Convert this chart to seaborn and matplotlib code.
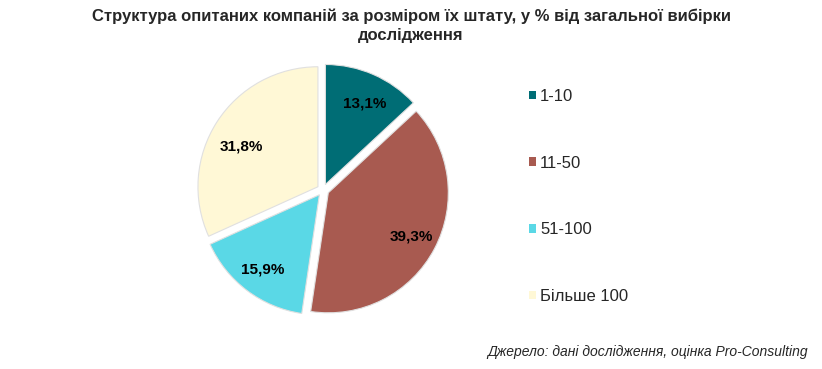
import numpy as np
import matplotlib
matplotlib.use("Agg")
import matplotlib.pyplot as plt
import seaborn as sns
from matplotlib.patches import Patch

# дані з діаграми
categories = ["1-10", "11-50", "51-100", "Більше 100"]
shares = [13.1, 39.3, 15.9, 31.8]
colors = ["#006d75", "#a85a50", "#5ad8e6", "#fff8d6"]

title = "Структура опитаних компаній за розміром їх штату, у % від загальної вибірки\nдослідження"
source = "Джерело: дані дослідження, оцінка Pro-Consulting"

# розміщення підписів часток (відстань від центру, зсув кута)
label_r = [0.75, 0.78, 0.78, 0.72]
label_shift = [-2, 0, 0, 5]

sns.set_theme(style="white")
plt.rcParams["font.family"] = ["Liberation Sans", "DejaVu Sans"]

fig = plt.figure(figsize=(8.22, 3.69), dpi=100)
fig.patch.set_facecolor("white")

# квадратні осі під круг (центр ~ (323,190) px, радіус ~120 px)
ax = fig.add_axes([179 / 822, 35 / 369, 288 / 822, 288 / 369])
wedges, _ = ax.pie(
    shares,
    colors=colors,
    startangle=90,
    counterclock=False,
    explode=[0.05] * len(shares),
    wedgeprops=dict(edgecolor="#e0e0e0", linewidth=0.8),
)
ax.set_xlim(-1.2, 1.2)
ax.set_ylim(-1.2, 1.2)
ax.set_aspect("equal")
ax.axis("off")

for w, v, r, sh in zip(wedges, shares, label_r, label_shift):
    ang = np.deg2rad((w.theta1 + w.theta2) / 2 + sh)
    cx, cy = w.center
    ax.text(cx + r * np.cos(ang), cy + r * np.sin(ang), f"{v:.1f}%".replace(".", ","),
            ha="center", va="center", fontsize=11, fontweight="bold", color="black")

handles = [Patch(facecolor=c, edgecolor="none") for c in colors]
fig.legend(handles, categories, loc="upper left", bbox_to_anchor=(514 / 822, 1 - 74 / 369),
           frameon=False, fontsize=12, handlelength=0.42, handleheight=0.42,
           handletextpad=0.25, labelspacing=3.1)

fig.text(0.5, 1 - 8 / 369, title, ha="center", va="top", fontsize=12,
         fontweight="bold", linespacing=1.35)
fig.text(808 / 822, 1 - 352 / 369, source, ha="right", va="center", fontsize=10,
         fontstyle="italic")

fig.savefig("out.png", dpi=100)
